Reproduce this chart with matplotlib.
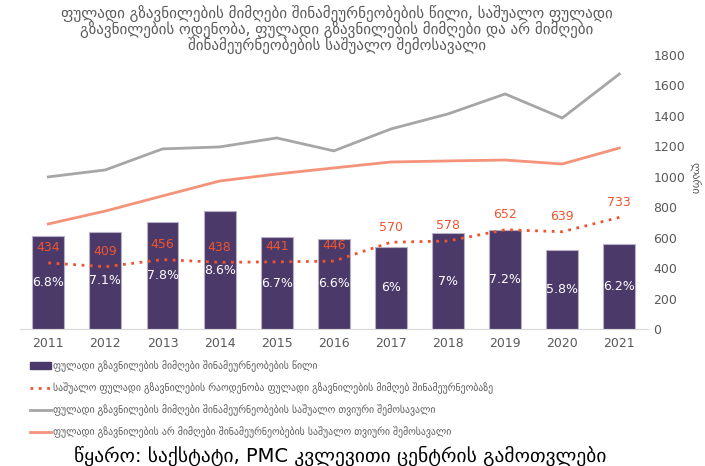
import matplotlib.pyplot as plt
from matplotlib.patches import Patch
from matplotlib.lines import Line2D
import numpy as np

plt.rcParams['font.family'] = ['DejaVu Sans']

years = ["2011", "2012", "2013", "2014", "2015", "2016", "2017", "2018", "2019", "2020", "2021"]
share = [6.8, 7.1, 7.8, 8.6, 6.7, 6.6, 6.0, 7.0, 7.2, 5.8, 6.2]
share_labels = ["6.8%", "7.1%", "7.8%", "8.6%", "6.7%", "6.6%", "6%", "7%", "7.2%", "5.8%", "6.2%"]
avg_transfer = [434, 409, 456, 438, 441, 446, 570, 578, 652, 639, 733]
inc_recv = [999, 1045, 1183, 1196, 1255, 1170, 1314, 1413, 1544, 1386, 1675]
inc_nonrecv = [690, 775, 874, 972, 1018, 1058, 1097, 1104, 1110, 1084, 1189]

title = ("ფულადი გზავნილების მიმღები შინამეურნეობების წილი, საშუალო ფულადი\n"
         "გზავნილების ოდენობა, ფულადი გზავნილების მიმღები და არ მიმღები\n"
         "შინამეურნეობების საშუალო შემოსავალი")
leg_labels = [
    "ფულადი გზავნილების მიმღები შინამეურნეობების წილი",
    "საშუალო ფულადი გზავნილების რაოდენობა ფულადი გზავნილების მიმღებ შინამეურნეობაზე",
    "ფულადი გზავნილების მიმღები შინამეურნეობების საშუალო თვიური შემოსავალი",
    "ფულადი გზავნილების არ მიმღები შინამეურნეობების საშუალო თვიური შემოსავალი",
]
source = "წყარო: საქსტატი, PMC კვლევითი ცენტრის გამოთვლები"

bar_c = "#4B3A69"
dot_c = "#F0542E"
gray_c = "#A6A6A6"
salmon_c = "#F4937A"
txt_c = "#595959"

fig = plt.figure(figsize=(7.05, 4.66), dpi=100)
ax = fig.add_axes([0.028, 0.294, 0.891, 0.588])
x = np.arange(len(years))

# bars on hidden percentage axis
ax.bar(x, share, width=0.56, color=bar_c, edgecolor="#B8B0C8", linewidth=0.8, zorder=1)
ax.set_ylim(0, 20)
ax.set_xlim(-0.5, 10.5)
ax.set_yticks([])
for s in ["left", "top", "right"]:
    ax.spines[s].set_visible(False)
ax.spines["bottom"].set_color("#D9D9D9")
ax.set_xticks(x)
ax.set_xticklabels(years, fontsize=9, color=txt_c)
ax.tick_params(axis="x", length=0, pad=6)
for xi, v, lab in zip(x, share, share_labels):
    ax.text(xi, v / 2, lab, ha="center", va="center", color="white", fontsize=9, zorder=5)

ax2 = ax.twinx()
ax2.set_ylim(0, 1800)
ax2.set_yticks(range(0, 1801, 200))
ax2.tick_params(axis="y", length=0, labelsize=9, labelcolor=txt_c, pad=4)
for s in ["left", "top", "right", "bottom"]:
    ax2.spines[s].set_visible(False)
ax2.plot(x, inc_recv, color=gray_c, lw=2, zorder=3)
ax2.plot(x, inc_nonrecv, color=salmon_c, lw=2, zorder=3)
ax2.plot(x, avg_transfer, color=dot_c, lw=2, ls=(0, (1, 2)), zorder=4)
for xi, v in zip(x, avg_transfer):
    ax2.text(xi, v + 100, str(v), ha="center", va="center", color=dot_c, fontsize=9, zorder=5)
ax2.set_ylabel("ლარი", rotation=270, fontsize=8, color=txt_c, va="center")
ax2.yaxis.set_label_coords(1.076, 0.55)

fig.text(0.478, 0.99, title, ha="center", va="top", fontsize=10.8, color=txt_c, linespacing=0.92)

handles = [
    Patch(facecolor=bar_c, edgecolor=bar_c),
    Line2D([0], [0], color=dot_c, lw=2, ls=(0, (1, 2))),
    Line2D([0], [0], color=gray_c, lw=2),
    Line2D([0], [0], color=salmon_c, lw=2),
]
fig.legend(handles, leg_labels, loc="upper left", bbox_to_anchor=(0.042, 0.227), frameon=False,
           fontsize=7, labelcolor=txt_c, handlelength=2.2, handletextpad=0.2, labelspacing=1.09,
           borderaxespad=0, borderpad=0)

fig.text(0.105, 0.0, source, ha="left", va="bottom", fontsize=14, color="black")

fig.savefig("out.png", dpi=100)
